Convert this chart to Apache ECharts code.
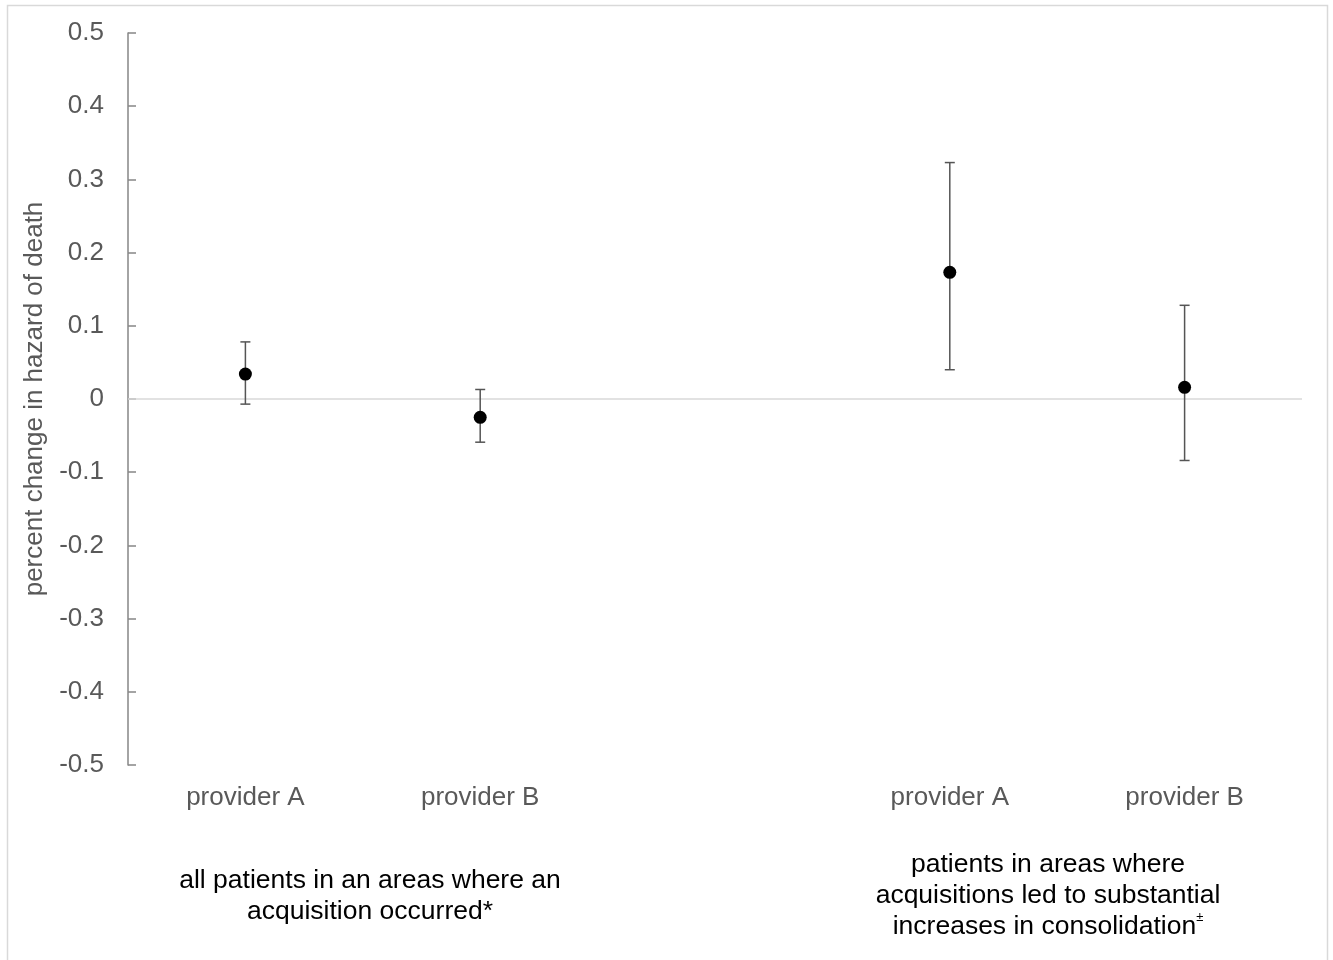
<!DOCTYPE html>
<html>
<head>
<meta charset="utf-8">
<script src="https://cdn.jsdelivr.net/npm/echarts@6/dist/echarts.min.js"></script>
<style>
  html, body { margin: 0; padding: 0; background: #ffffff; }
  #chart { width: 1333px; height: 960px; }
</style>
</head>
<body>
<div id="chart"></div>
<script>
// Provider categories along the x axis (middle slot separates the two groups)
const categories = ['provider A', 'provider B', '', 'provider A', 'provider B'];
// Point estimates and 95% confidence bounds
const estimates = [0.034, -0.025, null, 0.173, 0.016];
const lowerCI   = [-0.007, -0.059, null, 0.040, -0.084];
const upperCI   = [0.078, 0.013, null, 0.323, 0.128];
// Y axis range and step
const yMin = -0.5, yMax = 0.5, yStep = 0.1;
// Group captions under the categories
const groupLeftLines = ['all patients in an areas where an', 'acquisition occurred*'];
const groupRightLines = ['patients in areas where', 'acquisitions led to substantial', 'increases in consolidation'];

const FONT = '"Liberation Sans", Arial, sans-serif';

const pointData = [];
const barData = [];
categories.forEach((c, i) => {
  if (estimates[i] == null) return;
  pointData.push([i, estimates[i]]);
  barData.push([i, lowerCI[i], upperCI[i]]);
});

const chart = echarts.init(document.getElementById('chart'), null, { renderer: 'canvas' });

chart.setOption({
  backgroundColor: '#ffffff',
  animation: false,
  grid: { left: 128, right: 31, top: 33, bottom: 195, containLabel: false, outerBoundsMode: 'none' },
  xAxis: {
    type: 'category',
    data: categories,
    boundaryGap: true,
    axisLine: { show: false },
    axisTick: { show: false },
    axisLabel: { fontFamily: FONT, fontSize: 26, color: '#595959', margin: 20 },
    splitLine: { show: false }
  },
  yAxis: {
    type: 'value',
    min: yMin,
    max: yMax,
    interval: yStep,
    name: 'percent change in hazard of death',
    nameLocation: 'middle',
    nameRotate: 90,
    nameGap: 75,
    nameTextStyle: { fontFamily: FONT, fontSize: 26, color: '#595959' },
    axisLine: { show: true, lineStyle: { color: '#868686', width: 1.5 } },
    axisTick: { show: true, inside: true, length: 8, lineStyle: { color: '#868686', width: 1.5 } },
    axisLabel: {
      fontFamily: FONT, fontSize: 26, color: '#595959', margin: 24,
      formatter: v => String(Number(v.toFixed(1)))
    },
    splitLine: { show: false }
  },
  series: [
    {
      type: 'custom',
      name: 'ci',
      data: barData,
      z: 2,
      renderItem: function (params, api) {
        const x = api.value(0);
        const lo = api.coord([x, api.value(1)]);
        const hi = api.coord([x, api.value(2)]);
        const half = 5;
        const style = { stroke: '#555555', lineWidth: 1.5 };
        return {
          type: 'group',
          children: [
            { type: 'line', shape: { x1: lo[0], y1: lo[1], x2: hi[0], y2: hi[1] }, style },
            { type: 'line', shape: { x1: hi[0] - half, y1: hi[1], x2: hi[0] + half, y2: hi[1] }, style },
            { type: 'line', shape: { x1: lo[0] - half, y1: lo[1], x2: lo[0] + half, y2: lo[1] }, style }
          ]
        };
      },
      markLine: {
        silent: true,
        symbol: 'none',
        label: { show: false },
        lineStyle: { color: '#d9d9d9', type: 'solid', width: 1.5 },
        data: [{ yAxis: 0 }],
        z: 1
      }
    },
    {
      type: 'scatter',
      name: 'estimate',
      data: pointData,
      symbol: 'circle',
      symbolSize: 13,
      itemStyle: { color: '#000000', opacity: 1 },
      z: 3
    }
  ],
  graphic: [
    {
      type: 'rect',
      silent: true,
      shape: { x: 7.5, y: 5.5, width: 1320, height: 970 },
      style: { fill: 'none', stroke: '#d9d9d9', lineWidth: 1.5 }
    },
    {
      type: 'text',
      silent: true,
      x: 370, y: 865,
      style: {
        text: groupLeftLines.join('\n'),
        textAlign: 'center',
        font: '26.5px ' + FONT,
        fill: '#000000',
        lineHeight: 31
      }
    },
    {
      type: 'text',
      silent: true,
      x: 1048, y: 849,
      style: {
        text: groupRightLines[0] + '\n' + groupRightLines[1] + '\n{t|' + groupRightLines[2] + '}{s|±}',
        textAlign: 'center',
        font: '26.5px ' + FONT,
        fill: '#000000',
        lineHeight: 31,
        rich: {
          t: { fontFamily: FONT, fontSize: 26.5, lineHeight: 31, color: '#000000' },
          s: { fontFamily: FONT, fontSize: 13, lineHeight: 31, color: '#000000', verticalAlign: 'top', padding: [0, 0, 8, 0] }
        }
      }
    }
  ]
});
</script>
</body>
</html>
